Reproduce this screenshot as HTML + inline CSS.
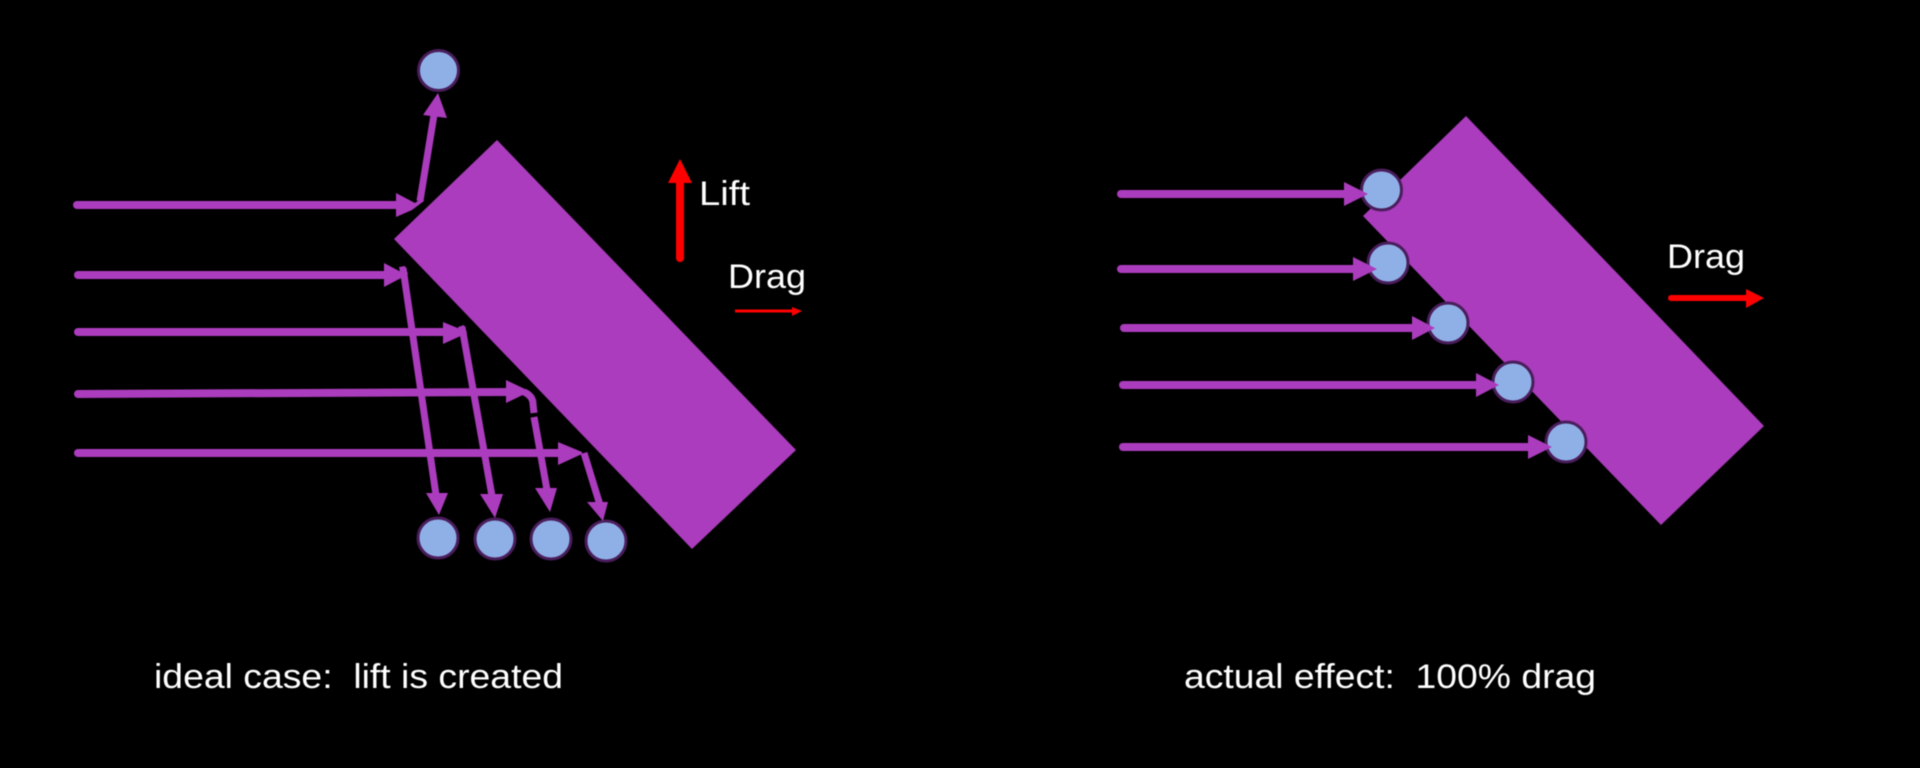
<!DOCTYPE html>
<html lang="en">
<head>
<meta charset="utf-8">
<title>Lift and drag diagram</title>
<style>
html,body{margin:0;padding:0;background:#000;width:1920px;height:768px;overflow:hidden}
svg{display:block;filter:blur(0.5px)}
text{font-family:"Liberation Sans",Arial,sans-serif;fill:#fff;font-size:34px}
.p{stroke:#ab3cbd;fill:none;stroke-linecap:round;stroke-linejoin:round}
.h{fill:#ab3cbd}
.c{fill:#8fb0e6;stroke:#4a1d5c;stroke-width:3}
</style>
</head>
<body>
<svg width="1920" height="768" viewBox="0 0 1920 768" xmlns="http://www.w3.org/2000/svg">
<rect width="1920" height="768" fill="#000"/>

<!-- Left: airfoil -->
<polygon points="497,140 796,450 692,549 394,239" fill="#ab3cbd"/>

<!-- Left: particles -->
<circle class="c" cx="438.5" cy="70.5" r="20"/>
<circle class="c" cx="438" cy="538" r="20"/>
<circle class="c" cx="495" cy="539" r="20"/>
<circle class="c" cx="551" cy="539" r="20"/>
<circle class="c" cx="606" cy="541" r="20"/>

<!-- Left: incoming lines -->
<path class="p" stroke-width="8" d="M77 205H400"/>
<polygon class="h" points="396,193 415,203 422,198 424,201 412,210 396,217"/>
<path class="p" stroke-width="8" d="M78 275H390"/>
<polygon class="h" points="384,263 403,273 403,277 384,287"/>
<path class="p" stroke-width="8" d="M78 332H450"/>
<polygon class="h" points="443,322 465,331 465,334 443,344"/>
<path class="p" stroke-width="8" d="M78 394L510 392"/>
<polygon class="h" points="506,380 527,390 527,393 506,403"/>
<path class="p" stroke-width="8" d="M78 453H565"/>
<polygon class="h" points="558,442 582,452 582,454 558,465"/>

<!-- Left: deflected lines -->
<path stroke="#ab3cbd" stroke-width="7" fill="none" d="M420 201L434 115"/>
<polygon class="h" points="438,93 447,118 423,115"/>
<path stroke="#ab3cbd" stroke-width="7" fill="none" d="M403 268L436 495"/>
<polygon class="h" points="439,515 426,493 448,493"/>
<polygon class="h" points="399,267 405,266 408,274 401,276"/>
<path stroke="#ab3cbd" stroke-width="7" fill="none" d="M462 327L492 496"/>
<polygon class="h" points="495,518 480,494 503,494"/>
<polygon class="h" points="458,327 464,325 467,333 460,335"/>
<path stroke="#ab3cbd" stroke-width="7" fill="none" d="M524 392Q533 396 533 404L534 413"/>
<path stroke="#ab3cbd" stroke-width="7" fill="none" d="M534 417L547 490"/>
<polygon class="h" points="550,512 535,488 557,488"/>
<path stroke="#ab3cbd" stroke-width="7" fill="none" d="M584 453L600 505"/>
<polygon class="h" points="603,521 587,502 608,502"/>

<!-- Left: Lift / Drag -->
<path stroke="#f00" stroke-width="8" stroke-linecap="round" d="M680 180V258"/>
<polygon fill="#f00" points="680,159 692,183 668,183"/>
<text x="699" y="205" textLength="51" lengthAdjust="spacingAndGlyphs">Lift</text>
<text x="728" y="288" textLength="78" lengthAdjust="spacingAndGlyphs">Drag</text>
<path stroke="#f00" stroke-width="3" d="M735 311H795"/>
<polygon fill="#f00" points="802,311 792,307 792,316"/>

<!-- Right: airfoil -->
<polygon points="1466,116 1764,426 1661,525 1363,216" fill="#ab3cbd"/>

<!-- Right: particles -->
<circle class="c" cx="1381.5" cy="190" r="20"/>
<circle class="c" cx="1388" cy="263" r="20"/>
<circle class="c" cx="1448" cy="323" r="20"/>
<circle class="c" cx="1513" cy="382" r="20"/>
<circle class="c" cx="1566" cy="442" r="20"/>

<!-- Right: lines -->
<path class="p" stroke-width="8" d="M1121 194H1350"/>
<polygon class="h" points="1344,182 1368,194 1344,206"/>
<path class="p" stroke-width="8" d="M1121 269H1358"/>
<polygon class="h" points="1353,257 1377,269 1353,281"/>
<path class="p" stroke-width="8" d="M1124 328H1418"/>
<polygon class="h" points="1412,316 1435,328 1412,340"/>
<path class="p" stroke-width="8" d="M1123 385H1482"/>
<polygon class="h" points="1476,373 1499,385 1476,397"/>
<path class="p" stroke-width="8" d="M1123 447H1534"/>
<polygon class="h" points="1528,435 1552,447 1528,459"/>

<!-- Right: Drag -->
<text x="1667" y="268" textLength="78" lengthAdjust="spacingAndGlyphs">Drag</text>
<path stroke="#f00" stroke-width="6" stroke-linecap="round" d="M1671 298H1750"/>
<polygon fill="#f00" points="1764,298 1746,289 1746,308"/>

<!-- Captions -->
<text x="154" y="688" textLength="409" lengthAdjust="spacingAndGlyphs" xml:space="preserve">ideal case:  lift is created</text>
<text x="1184" y="688" textLength="412" lengthAdjust="spacingAndGlyphs" xml:space="preserve">actual effect:  100% drag</text>
</svg>
</body>
</html>
